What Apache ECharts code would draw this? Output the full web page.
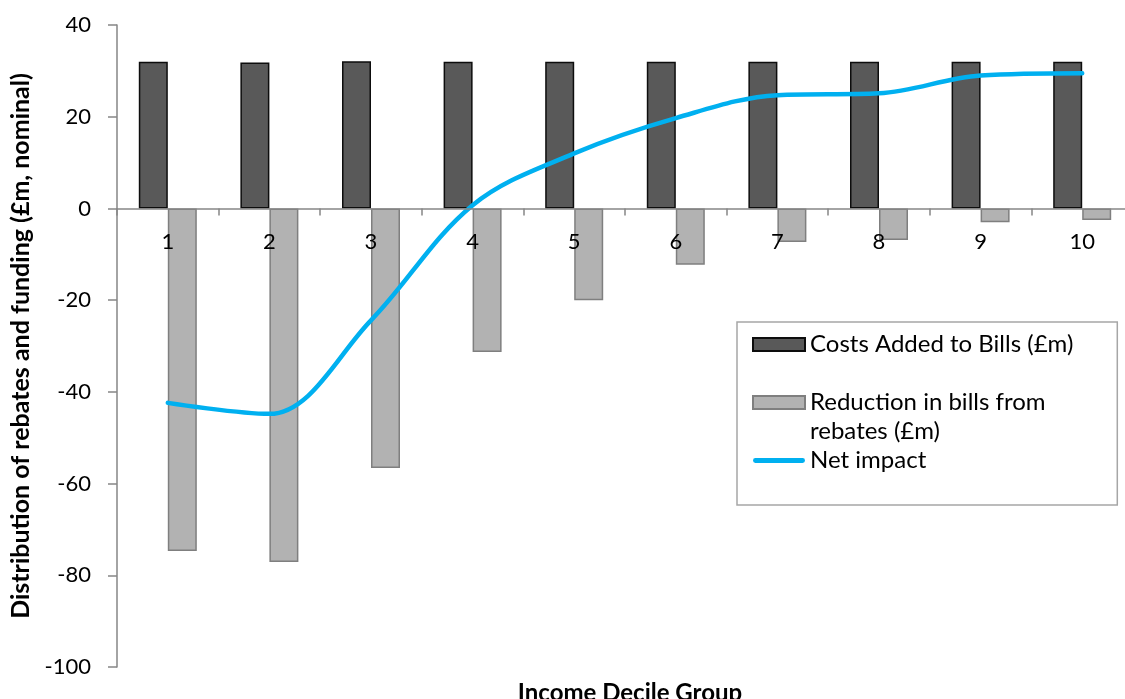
<!DOCTYPE html>
<html>
<head>
<meta charset="utf-8">
<script src="https://cdn.jsdelivr.net/npm/echarts@6/dist/echarts.min.js"></script>
<style>html,body{margin:0;padding:0;background:#fff}#c{width:1125px;height:699px}</style>
</head>
<body>
<div id="c"></div>
<script>
const categories = ['1','2','3','4','5','6','7','8','9','10'];
const costsAdded = [32, 31.8, 32.1, 32, 32, 32, 32, 32, 32, 32];
const reductionRebates = [-74.7, -77.1, -56.6, -31.3, -20, -12.3, -7.3, -6.9, -3, -2.5];
const netImpact = [-42.4, -44.8, -24.4, 0.7, 12, 19.7, 24.7, 25.1, 29, 29.5];
const yTicks = {min: -100, max: 40, interval: 20};

const FONT = 'Lato';
const GRID = {left: 117, top: 25, right: -8, bottom: 32, containLabel: false, outerBoundsMode: 'none'};
const PLOT_H = 699 - GRID.top - GRID.bottom;
const zeroOffset = -PLOT_H * (0 - yTicks.min) / (yTicks.max - yTicks.min);

const lineIcon = 'path://M0,0 L0.01,0 L0,0.01 Z M2,4 L50,4 A2.5,2.5 0 0 1 50,9 L2,9 A2.5,2.5 0 0 1 2,4 Z M0,13 L0.01,13 L0,12.99 Z';

const chart = echarts.init(document.getElementById('c'), null, {renderer: 'canvas'});
chart.setOption({
  animation: false,
  textStyle: {fontFamily: FONT},
  title: {
    text: 'Income Decile Group',
    left: 625, top: 676, textAlign: 'center',
    textStyle: {fontFamily: FONT, fontSize: 24, fontWeight: 'bold', color: '#000'}
  },
  grid: GRID,
  legend: {
    orient: 'vertical',
    left: 737, top: 322,
    padding: [8, 44, 30, 15],
    itemGap: 0,
    itemWidth: 52, itemHeight: 13,
    borderColor: '#a6a6a6', borderWidth: 1.5,
    textStyle: {fontFamily: FONT, fontSize: 24, color: '#000', lineHeight: 29},
    data: [
      {name: 'Costs Added to Bills (£m)', icon: 'rect'},
      {name: '\nReduction in bills from\nrebates (£m)', icon: 'rect'},
      {name: 'Net impact', icon: lineIcon, itemStyle: {color: '#00b0f0', borderWidth: 0}}
    ]
  },
  xAxis: {
    type: 'category',
    data: categories,
    offset: zeroOffset,
    z: 5,
    axisLine: {onZero: false, lineStyle: {color: '#868686', width: 1.5}},
    axisTick: {show: true, alignWithLabel: false, length: 7, lineStyle: {color: '#868686', width: 1.5}},
    axisLabel: {fontFamily: FONT, fontSize: 22, color: '#000', margin: 22},
    splitLine: {show: false}
  },
  yAxis: {
    type: 'value',
    min: yTicks.min, max: yTicks.max, interval: yTicks.interval,
    name: 'Distribution of rebates and funding (£m, nominal)',
    nameLocation: 'middle', nameGap: 84, nameRotate: 90,
    nameTextStyle: {fontFamily: FONT, fontSize: 25, fontWeight: 'bold', color: '#000'},
    axisLine: {show: true, lineStyle: {color: '#868686', width: 1.5}},
    axisTick: {show: true, length: 9, lineStyle: {color: '#868686', width: 1.5}},
    axisLabel: {fontFamily: FONT, fontSize: 22, color: '#000', margin: 26},
    splitLine: {show: false}
  },
  series: [
    {
      name: 'Costs Added to Bills (£m)', type: 'bar', data: costsAdded,
      barWidth: 29, barGap: '0%',
      itemStyle: {color: '#595959', borderColor: '#0d0d0d', borderWidth: 1.5}
    },
    {
      name: '\nReduction in bills from\nrebates (£m)', type: 'bar', data: reductionRebates,
      barWidth: 29, barGap: '0%',
      itemStyle: {color: '#b2b2b2', borderColor: '#7f7f7f', borderWidth: 1.5}
    },
    {
      name: 'Net impact', type: 'line', data: netImpact,
      smooth: 0.35, symbol: 'none', showSymbol: false,
      lineStyle: {color: '#00b0f0', width: 4.5, cap: 'round'},
      itemStyle: {color: '#00b0f0'}
    }
  ]
});
</script>
</body>
</html>
